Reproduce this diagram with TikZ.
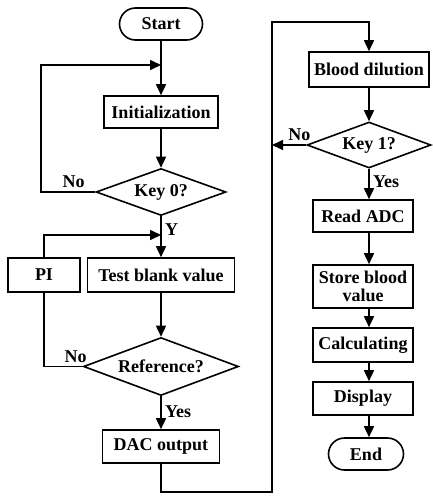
\documentclass[tikz,border=0pt]{standalone}
\usepackage{fontspec}
\setmainfont{Liberation Serif}
\usetikzlibrary{arrows.meta,shapes.geometric}

\begin{document}
\begin{tikzpicture}[x=1pt,y=-1pt,line width=1.6pt,
    >={Triangle[length=11pt,width=10pt]},
    every node/.style={font=\bfseries\fontsize{18}{18}\selectfont},
    box/.style={draw,rectangle,inner sep=1pt,minimum height=33pt,align=center},
    term/.style={draw,rectangle,rounded corners=16pt,minimum height=32pt},
    decision/.style={draw,diamond,inner sep=0pt,aspect=2.6}]

    \useasboundingbox (0,0) rectangle (432,496);

    % left column
    \node[term,minimum width=83pt] (start) at (161,24) {Start};
    \node[box,minimum width=114pt,minimum height=32pt] (init) at (161,112) {Initialization};
    \node[decision,minimum width=130pt,minimum height=47pt] (key0) at (161,192) {Key 0?};
    \node[box,minimum width=147pt,minimum height=34pt] (test) at (161,275) {Test blank value};
    \node[box,minimum width=72pt,minimum height=34pt] (pi) at (44,275) {PI};
    \node[decision,minimum width=155pt,minimum height=58pt] (ref) at (161,366.5) {Reference?};
    \node[box,minimum width=117pt] (dac) at (161,446.5) {DAC output};

    % right column
    \node[box,minimum width=120pt,minimum height=35pt] (blood) at (369,69.5) {Blood dilution};
    \node[decision,minimum width=124pt,minimum height=46pt] (key1) at (369,145) {Key 1?};
    \node[box,minimum width=100pt,minimum height=32pt] (read) at (363,216) {Read ADC};
    \node[box,minimum width=100pt,minimum height=43pt,font=\bfseries\fontsize{18}{18}\selectfont] (store) at (363,286.5) {Store blood\\value};
    \node[box,minimum width=100pt,minimum height=34pt] (calc) at (363,345) {Calculating};
    \node[box,minimum width=100pt] (disp) at (363,398.5) {Display};
    \node[term,minimum width=75pt] (end) at (366,454) {End};

    \coordinate (merge0) at (161,65);
    \coordinate (merge1) at (161,235);
    \coordinate (rb) at (272,492);
    \coordinate (rt) at (272,22);

    \draw[->] (start) -- (init);
    \draw[->] (init) -- (key0);
    \draw[->] (key0.west) -- node[above,pos=0.4] {No} ++(-54,0) |- (merge0);
    \draw[->] (key0) -- node[right,pos=0.33] {Y} (test);
    \draw[->] (pi.north) |- (merge1);
    \draw (ref.west) -- node[above,pos=0.18] {No} (ref.west -| pi.south) -- (pi.south);
    \draw[->] (test) -- (ref);
    \draw[->] (ref) -- node[right,pos=0.48] {Yes} (dac);
    \draw[->] (dac.south) |- (rb) -- (rt) -| (blood.north);

    \draw[->] (blood) -- (key1);
    \draw[->] (key1.west) -- node[above,pos=0.2] {No} (key1.west -| rt);
    \draw[->] (key1) -- node[right,pos=0.44] {Yes} (key1.south |- read.north);
    \foreach \a/\b in {read/store,store/calc,calc/disp,disp/end}
        \draw[->] (key1.south |- \a.south) -- (key1.south |- \b.north);
\end{tikzpicture}
\end{document}
